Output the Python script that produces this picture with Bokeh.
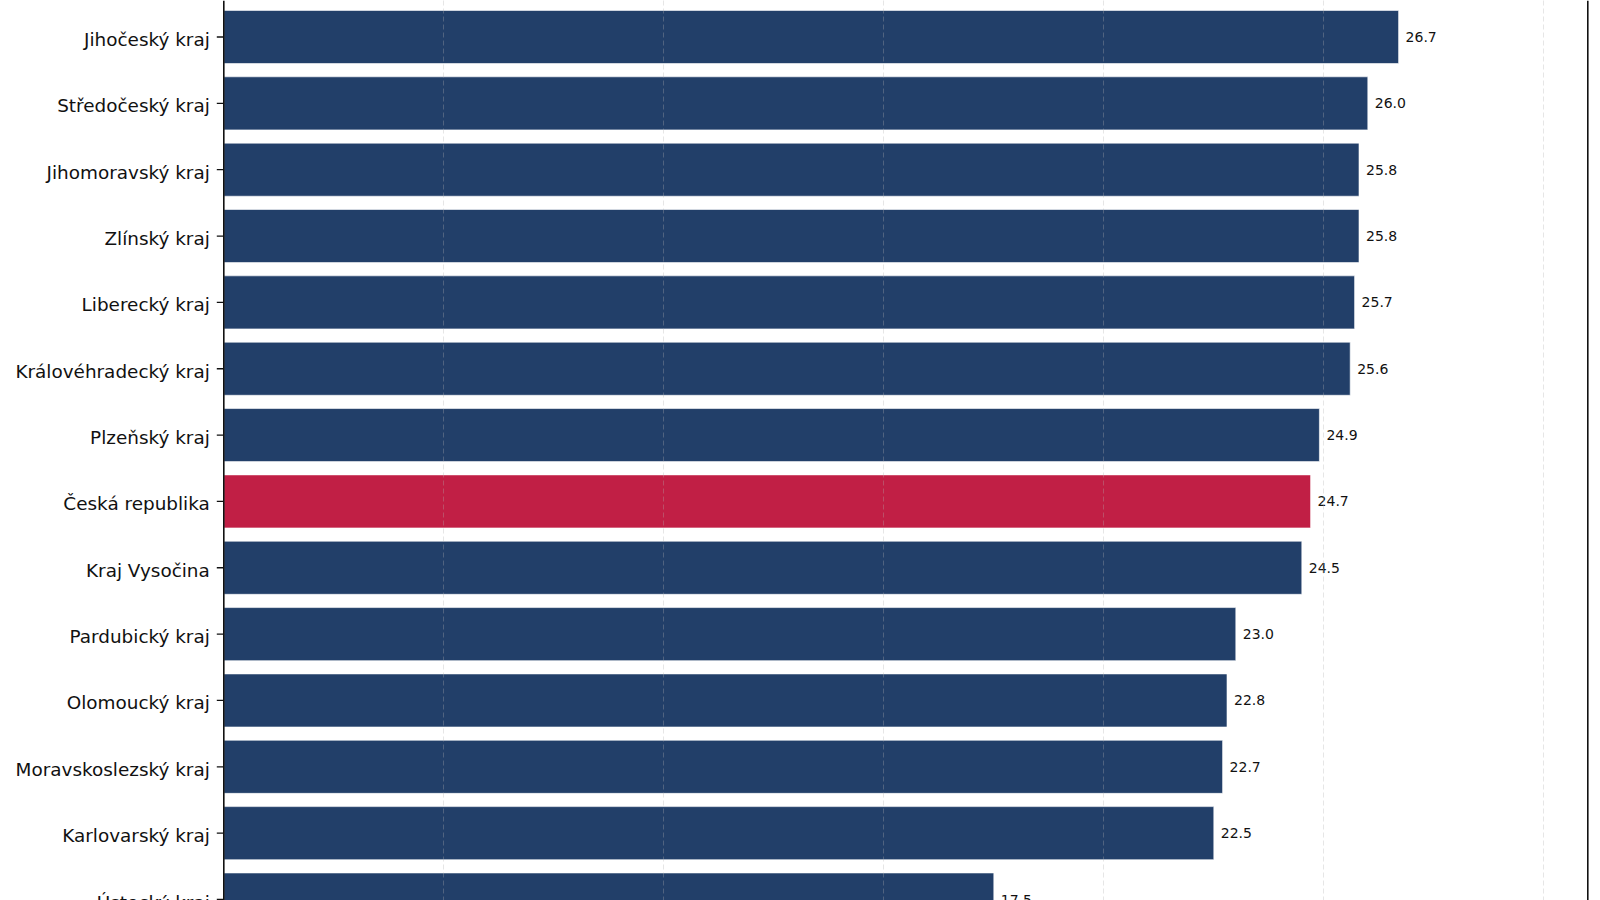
from bokeh.plotting import figure
from bokeh.models import ColumnDataSource, Range1d, FixedTicker, Span
from bokeh.embed import file_html
from bokeh.resources import INLINE

regions = ["Jihočeský kraj", "Středočeský kraj", "Jihomoravský kraj", "Zlínský kraj",
           "Liberecký kraj", "Královéhradecký kraj", "Plzeňský kraj", "Česká republika",
           "Kraj Vysočina", "Pardubický kraj", "Olomoucký kraj", "Moravskoslezský kraj",
           "Karlovarský kraj", "Ústecký kraj"]
values = [26.7, 26.0, 25.8, 25.8, 25.7, 25.6, 24.9, 24.7, 24.5, 23.0, 22.8, 22.7, 22.5, 17.5]
highlight = "Česká republika"
grid_ticks = [5, 10, 15, 20, 25, 30]
x_max = 31

NAVY = "#223F69"
RED = "#C11F45"
INK = "#111111"

pos = list(range(len(regions)))
colors = [RED if r == highlight else NAVY for r in regions]
labels = [f"{v:.1f}" for v in values]
zeros = [0] * len(regions)

src = ColumnDataSource(dict(y=pos, v=values, c=colors, lab=labels, name=regions, z=zeros))

# 44 px per unit; the value axis starts 223 px from the left edge
PX = 44.0
LEFT = 223.3
W = 1592
p = figure(frame_width=W, frame_height=900, output_backend="svg", toolbar_location=None,
           x_range=Range1d(-LEFT / PX, -LEFT / PX + W / PX), y_range=Range1d(13.015, -0.550),
           min_border_left=0, min_border_right=0, min_border_top=0, min_border_bottom=0,
           background_fill_color="white", border_fill_color="white")
p.outline_line_color = None
p.xaxis.visible = False
p.yaxis.visible = False
p.ygrid.grid_line_color = None
p.xgrid.ticker = FixedTicker(ticks=grid_ticks)
p.xgrid.grid_line_color = "#b0b0b0"
p.xgrid.grid_line_alpha = 0.32
p.xgrid.grid_line_width = 1
p.xgrid.grid_line_dash = "5 3"
p.xgrid.level = "annotation"

# tick marks (right half hidden under the bars)
p.scatter(x="z", y="y", source=src, marker="dash", size=14, line_color=INK, line_width=1.3)

p.hbar(y="y", left=0, right="v", height=0.8, fill_color="c", line_color="white",
       line_width=0.6, source=src)

# value labels
p.text(x="v", y="y", text="lab", source=src, x_offset=7, text_align="left",
       text_baseline="middle", text_font_size="14px", text_color=INK,
       text_font={"value": "DejaVu Sans"})

# category labels
p.text(x="z", y="y", text="name", source=src, x_offset=-14, y_offset=2.5,
       text_align="right", text_baseline="middle", text_font_size="18.4px",
       text_color=INK, text_font={"value": "DejaVu Sans"})

# spines
p.add_layout(Span(location=0, dimension="height", line_color=INK, line_width=1.6))
p.add_layout(Span(location=x_max, dimension="height", line_color=INK, line_width=1.6))

open("out.html", "w").write(file_html(p, INLINE))
